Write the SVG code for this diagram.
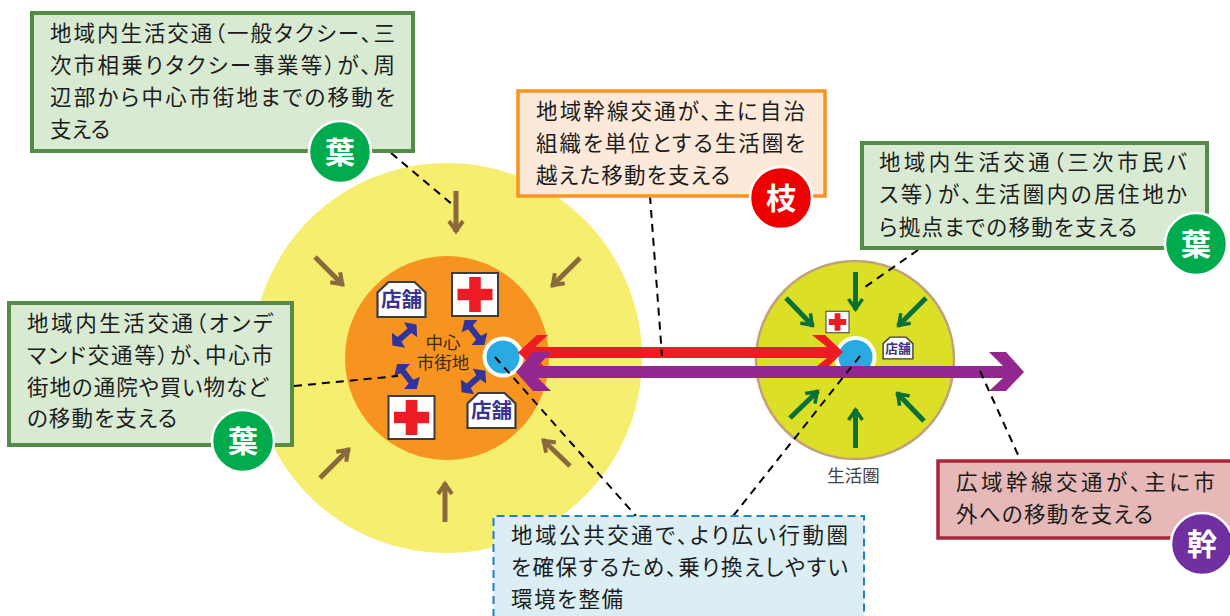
<svg xmlns="http://www.w3.org/2000/svg" width="1230" height="616" viewBox="0 0 1230 616">
<style>
text{font-family:"Noto Sans CJK JP",sans-serif}
.t{font-size:21.500px;fill:#1c1c1c;font-feature-settings:"palt"}
.b{font-size:30px;font-weight:700;fill:#fff;text-anchor:middle}
.g{fill:#d9ead3;stroke:#558b48;stroke-width:4}
.bd{stroke:#fff;stroke-width:2.500}
.d{stroke:#000;stroke-width:2;stroke-dasharray:8 6;fill:none}
.st{font-size:20.500px;font-weight:700;fill:#3a3391;text-anchor:middle}
.sp{fill:#fff;stroke:#3c3c3c;stroke-width:2.200}
.bw{stroke:#8a6a3d;stroke-width:5;fill:none}
.gr{stroke:#0a7038;stroke-width:5;fill:none}
</style>
<defs>
<marker id="ab" markerUnits="userSpaceOnUse" viewBox="0 0 24 24" refX="21" refY="12" markerWidth="24" markerHeight="24" orient="auto"><path d="M10 5L20 12L10 19" fill="none" stroke="#8a6a3d" stroke-width="4"/></marker>
<marker id="ag" markerUnits="userSpaceOnUse" viewBox="0 0 24 24" refX="21" refY="12" markerWidth="24" markerHeight="24" orient="auto"><path d="M10 5L20 12L10 19" fill="none" stroke="#0a7038" stroke-width="3.500"/></marker>
<path id="dbl" fill="#33349a" d="M-16 0L-8-10L-6.500-3H6.500L8-10L16 0L8 10L6.500 3H-6.500L-8 10z"/>
<g id="cross"><rect x="-23" y="-21.500" width="46" height="43" fill="#fff" stroke="#3c3c3c" stroke-width="2"/><path d="M-5.800-17.500H5.800V-5.800H17.500V5.800H5.800V17.500H-5.800V5.800H-17.500V-5.800H-5.800z" fill="#ed1c24"/></g>
<g id="shop"><path d="M-24 17.500V-7L-13-17.500H13L24-7V17.500z" class="sp"/><text y="7.500" class="st">店舗</text></g>
</defs>

<g id="area-city">
<circle cx="447" cy="358" r="195" fill="#f5ee6e"/>
<circle cx="447" cy="358" r="102" fill="#f79420"/>
</g>
<g id="area-life">
<circle cx="855" cy="360" r="99" fill="#dbdf26" stroke="#c2a377" stroke-width="2.500"/>
</g>

<g id="arrows-inbound">
<path class="bw" marker-end="url(#ab)" d="M456 191V232"/>
<path class="bw" marker-end="url(#ab)" d="M315 257L343 285"/>
<path class="bw" marker-end="url(#ab)" d="M580 258L552 286"/>
<path class="bw" marker-end="url(#ab)" d="M320 478L349 449"/>
<path class="bw" marker-end="url(#ab)" d="M445 522V483"/>
<path class="bw" marker-end="url(#ab)" d="M570 466L543 440"/>
<path class="gr" marker-end="url(#ag)" d="M855.500 272V310"/>
<path class="gr" marker-end="url(#ag)" d="M786 298L813 326"/>
<path class="gr" marker-end="url(#ag)" d="M926 298L898 326"/>
<path class="gr" marker-end="url(#ag)" d="M790 418L818 391"/>
<path class="gr" marker-end="url(#ag)" d="M924 421L897 393"/>
<path class="gr" marker-end="url(#ag)" d="M855.500 448V409"/>
</g>

<g id="facilities">
<use href="#shop" x="401.500" y="299.500"/>
<use href="#cross" x="475" y="294.500"/>
<use href="#cross" x="411.500" y="417.500"/>
<use href="#shop" x="491.500" y="410.500"/>
<g transform="translate(837.500 322) scale(.5)"><use href="#cross"/></g>
<g transform="translate(898 348) scale(.62)"><use href="#shop"/></g>
</g>
<g id="city-label">
<text text-anchor="middle" font-size="17.500" fill="#3a2a10"><tspan x="443" y="349">中心</tspan><tspan x="443" y="368.500">市街地</tspan></text>
</g>
<g id="life-label"><text x="853.500" y="482" text-anchor="middle" font-size="17.500" fill="#444">生活圏</text></g>

<g id="hubs">
<circle cx="503" cy="357" r="18.500" fill="#29abe2" stroke="#fff" stroke-width="4"/>
<circle cx="855.500" cy="357" r="19" fill="#29abe2" stroke="#fff" stroke-width="4"/>
</g>

<g id="connectors">
<use href="#dbl" transform="translate(404.500 335) rotate(-41)"/>
<use href="#dbl" transform="translate(474.500 332.500) rotate(52)"/>
<use href="#dbl" transform="translate(407 376.500) rotate(52)"/>
<use href="#dbl" transform="translate(473.500 381.500) rotate(-42)"/>
<path fill="#ed1c24" d="M518 352.500L537 335H548L535 347H827L812 335H825L843 352L825 370H812L827 358H535L548 370H537z"/>
<path fill="#92278f" d="M516 372L533 352H551L538 366H1003L989 352H1006L1024 372L1006 391H989L1003 378H538L551 391H533z"/>
<path class="d" d="M391 153L453 205"/>
<path class="d" d="M650 196L662 356"/>
<path class="d" d="M294 386L398 376"/>
<path class="d" d="M495 357L636 516"/>
<path class="d" d="M918 250L865 287"/>
<path class="d" d="M860 356L733 516"/>
<path class="d" d="M980 371L1019 457"/>
</g>

<g id="box-leaf-1">
<rect class="g" x="32" y="13" width="381" height="138"/>
<text class="t" x="50" y="41" textLength="345">地域内生活交通（一般タクシー、三</text>
<text class="t" x="50" y="73" textLength="345">次市相乗りタクシー事業等）が、周</text>
<text class="t" x="50" y="105" textLength="345">辺部から中心市街地までの移動を</text>
<text class="t" x="50" y="137" textLength="60">支える</text>
<circle class="bd" cx="340" cy="152" r="31" fill="#00ab4e"/><text class="b" x="340" y="163">葉</text>
</g>
<g id="box-branch">
<rect x="518" y="91" width="307" height="105" fill="#fde9d9" stroke="#f7941d" stroke-width="3.500"/>
<text class="t" x="536" y="119" textLength="269">地域幹線交通が、主に自治</text>
<text class="t" x="536" y="151" textLength="269">組織を単位とする生活圏を</text>
<text class="t" x="536" y="183" textLength="194">越えた移動を支える</text>
<circle class="bd" cx="781" cy="198" r="31" fill="#ee0000"/><text class="b" x="781" y="209">枝</text>
</g>
<g id="box-leaf-2">
<rect class="g" x="862" y="143" width="345" height="105"/>
<text class="t" x="879" y="170" textLength="308">地域内生活交通（三次市民バ</text>
<text class="t" x="879" y="202" textLength="308">ス等）が、生活圏内の居住地か</text>
<text class="t" x="879" y="235" textLength="258">ら拠点までの移動を支える</text>
<circle class="bd" cx="1196" cy="244" r="31" fill="#00ab4e"/><text class="b" x="1196" y="255">葉</text>
</g>
<g id="box-leaf-3">
<rect class="g" x="9" y="303" width="283" height="142"/>
<text class="t" x="27" y="331" textLength="246">地域内生活交通（オンデ</text>
<text class="t" x="27" y="363" textLength="246">マンド交通等）が、中心市</text>
<text class="t" x="27" y="395" textLength="241">街地の通院や買い物など</text>
<text class="t" x="27" y="426" textLength="150">の移動を支える</text>
<circle class="bd" cx="243" cy="441" r="31" fill="#00ab4e"/><text class="b" x="243" y="452">葉</text>
</g>
<g id="box-trunk">
<rect x="938" y="461" width="294" height="77" fill="#e6b8b7" stroke="#a5283a" stroke-width="3.500"/>
<text class="t" x="956" y="490" textLength="259">広域幹線交通が、主に市</text>
<text class="t" x="956" y="522" textLength="197">外への移動を支える</text>
<circle class="bd" cx="1202" cy="544" r="31" fill="#7030a0"/><text class="b" x="1202" y="555">幹</text>
</g>
<g id="box-hub">
<path d="M493.500 630V516H864V630" fill="#daeef3" stroke="#1f7fd0" stroke-width="2" stroke-dasharray="8 5"/>
<text class="t" x="511" y="543" textLength="337">地域公共交通で、より広い行動圏</text>
<text class="t" x="511" y="575" textLength="337">を確保するため、乗り換えしやすい</text>
<text class="t" x="511" y="607" textLength="112">環境を整備</text>
</g>
</svg>
